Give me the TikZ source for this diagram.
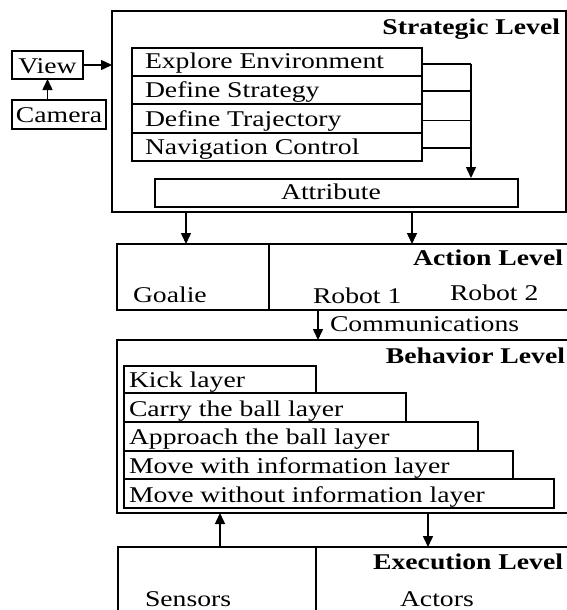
\documentclass[tikz,border=0pt]{standalone}
\usepackage{fontspec}
\setmainfont[FakeStretch=1.23]{Liberation Serif}
\usetikzlibrary{arrows.meta}
\begin{document}
\begin{tikzpicture}[x=1pt,y=-1pt,
  box/.style={draw, line width=1.5pt, inner sep=0pt, outer sep=0pt, anchor=north west},
  txt/.style={font=\fontsize{22.5}{27}\selectfont, inner sep=0pt, outer sep=0pt},
  ttl/.style={font=\fontsize{22.5}{27}\selectfont\bfseries, inner sep=0pt, outer sep=0pt, anchor=base east},
  arr/.style={line width=1.5pt, -{Triangle[length=11pt,width=10pt]}},
  bus/.style={line width=1.5pt}]
\useasboundingbox (0,0) rectangle (567,610);
\clip (0,0) rectangle (567,610);

% Strategic level
\node[box, minimum width=454pt, minimum height=201pt] (strat) at (112,11) {};
\node[ttl] (stratT) at (560,35) {Strategic Level};
\node[box, minimum width=290pt, minimum height=28pt] (r1) at (132,48) {};
\node[box, minimum width=290pt, minimum height=28pt] (r2) at (132,76) {};
\node[box, minimum width=290pt, minimum height=29pt] (r3) at (132,104) {};
\node[box, minimum width=290pt, minimum height=28pt] (r4) at (132,133) {};
\node[txt, anchor=base west] (t1) at (145,68) {Explore Environment};
\node[txt, anchor=base west] (t2) at (145,97) {Define Strategy};
\node[txt, anchor=base west] (t3) at (145,126) {Define Trajectory};
\node[txt, anchor=base west] (t4) at (145,154) {Navigation Control};
\node[box, minimum width=363pt, minimum height=28pt] (attr) at (155,179) {};
\node[txt, anchor=base] (attrT) at (331,199) {Attribute};
\coordinate (busx) at (471,0);
\draw[bus] ([yshift=-2pt]r1.east) -- ([yshift=-2pt]r1.east -| busx);
\draw[bus] ([yshift=-1pt]r2.east) -- ([yshift=-1pt]r2.east -| busx);
\draw[bus] ([yshift=-2pt]r3.east) -- ([yshift=-2pt]r3.east -| busx);
\draw[bus] ([yshift=-1pt]r4.east) -- ([yshift=-1pt]r4.east -| busx);
\draw[arr] ([yshift=-2pt]r1.east -| busx) -- ([yshift=1pt]attr.north -| busx);

% View / Camera
\node[box, minimum width=71pt, minimum height=28pt] (view) at (12,51) {};
\node[txt, anchor=base] (viewT) at (47.5,74) {View};
\node[box, minimum width=94pt, minimum height=29pt] (cam) at (12,100) {};
\node[txt, anchor=base] (camT) at (59,122) {Camera};
\draw[arr] (view.east) -- (view.east -| strat.west);
\draw[arr] (view.south |- cam.north) -- (view.south);

% Action level
\node[box, minimum width=152pt, minimum height=66pt] (goal) at (117,244) {};
\node[box, minimum width=400pt, minimum height=66pt] (rob) at (269,244) {};
\node[ttl] (actT) at (563,265) {Action Level};
\node[txt, anchor=base west] (goalT) at (133,302) {Goalie};
\node[txt, anchor=base west] (rob1T) at (313,303) {Robot 1};
\node[txt, anchor=base west] (rob2T) at (450,300) {Robot 2};
\coordinate (c1) at (186,0);
\coordinate (c2) at (412,0);
\draw[arr] (strat.south -| c1) -- (goal.north -| c1);
\draw[arr] (strat.south -| c2) -- (rob.north -| c2);

% Behavior level
\node[box, minimum width=500pt, minimum height=173pt] (beh) at (117,340) {};
\coordinate (c3) at (318,0);
\draw[arr] (rob.south -| c3) -- (beh.north -| c3);
\node[txt, anchor=base west] (commT) at (330,331) {Communications};
\node[ttl] (behT) at (565,363) {Behavior Level};
\node[box, minimum width=192pt, minimum height=27pt] (l1) at (124,366) {};
\node[box, minimum width=282pt, minimum height=29pt] (l2) at (124,393) {};
\node[box, minimum width=354pt, minimum height=29pt] (l3) at (124,422) {};
\node[box, minimum width=389pt, minimum height=28pt] (l4) at (124,451) {};
\node[box, minimum width=430pt, minimum height=29pt] (l5) at (124,479) {};
\node[txt, anchor=base west] (l1T) at (129,387) {Kick layer};
\node[txt, anchor=base west] (l2T) at (129,416) {Carry the ball layer};
\node[txt, anchor=base west] (l3T) at (129,444) {Approach the ball layer};
\node[txt, anchor=base west] (l4T) at (129,473) {Move with information layer};
\node[txt, anchor=base west] (l5T) at (129,502) {Move without information layer};

% Execution level
\node[box, minimum width=198pt, minimum height=100pt] (sens) at (118,547) {};
\node[box, minimum width=400pt, minimum height=100pt] (act) at (316,547) {};
\node[ttl] (exeT) at (563,569) {Execution Level};
\node[txt, anchor=base west] (sensT) at (145,606) {Sensors};
\node[txt, anchor=base west] (actT2) at (400,606) {Actors};
\coordinate (c4) at (220,0);
\coordinate (c5) at (428,0);
\draw[arr] (sens.north -| c4) -- (beh.south -| c4);
\draw[arr] (beh.south -| c5) -- (act.north -| c5);
\end{tikzpicture}
\end{document}
